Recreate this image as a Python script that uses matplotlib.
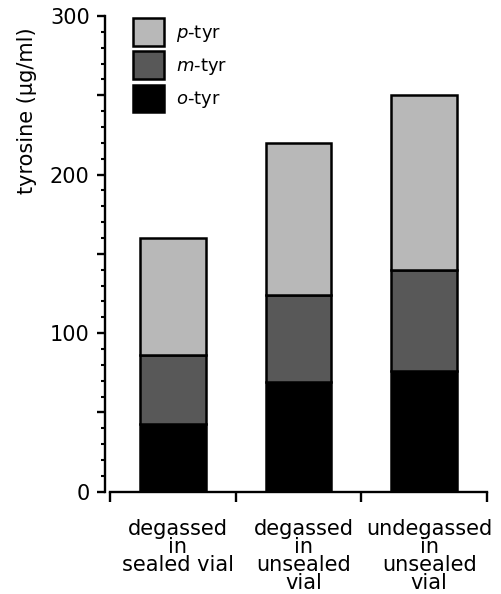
import numpy as np
import matplotlib
matplotlib.use('Agg')
import matplotlib.pyplot as plt
from matplotlib.ticker import MultipleLocator, FuncFormatter

# ---------------
# Data
# ---------------

conditions = ['degassed\nin\nsealed vial',
              'degassed\nin\nunsealed\nvial',
              'undegassed\nin\nunsealed\nvial']
o_tyr = [43, 69, 76]
m_tyr = [43, 55, 64]
p_tyr = [74, 96, 110]

series_labels = [r'$\mathit{o}$-tyr', r'$\mathit{m}$-tyr', r'$\mathit{p}$-tyr']
series_colors = ['black', '#585858', '#b8b8b8']

# ---------------
# Plot
# ---------------

plt.rcParams['font.family'] = 'DejaVu Sans'
plt.rcParams['mathtext.fontset'] = 'dejavusans'

fig = plt.figure(figsize=(5.02, 5.94), dpi=100)
ax = fig.add_axes([110/502, 102.3/594, 377/502, 475.7/594])

x = np.arange(len(conditions)) + 0.5
bottom = np.zeros(len(conditions))
handles = []
for vals, lab, col in zip([o_tyr, m_tyr, p_tyr], series_labels, series_colors):
    b = ax.bar(x, vals, 0.52, bottom=bottom, color=col, edgecolor='black',
               linewidth=1.8, label=lab)
    handles.append(b)
    bottom += np.array(vals)

ax.set_xlim(0, 3)
ax.set_ylim(0, 300)

# spines
for s in ['top', 'right']:
    ax.spines[s].set_visible(False)
ax.spines['left'].set_position(('outward', 3.6))
ax.spines['left'].set_linewidth(1.7)
ax.spines['bottom'].set_linewidth(1.7)

# y ticks
ax.yaxis.set_major_locator(MultipleLocator(50))
ax.yaxis.set_minor_locator(MultipleLocator(10))
ax.yaxis.set_major_formatter(FuncFormatter(lambda v, p: '%d' % v if v % 100 == 0 else ''))
ax.tick_params(axis='y', which='major', length=6, width=1.7, labelsize=15, pad=5)
ax.tick_params(axis='y', which='minor', length=3, width=1.5)

# x ticks: boundaries as major, labels on minor
ax.set_xticks([0, 1, 2, 3])
ax.set_xticklabels([])
ax.set_xticks(x + 0.04, minor=True)
ax.set_xticklabels(conditions, minor=True, linespacing=0.86)
ax.tick_params(axis='x', which='major', direction='out', length=7, width=1.7)
ax.tick_params(axis='x', which='minor', length=0, labelsize=15, pad=20)

ax.set_ylabel('tyrosine (µg/ml)', fontsize=15)
ax.yaxis.set_label_coords(-0.194, 0.80)

leg = ax.legend(handles[::-1], series_labels[::-1], loc='upper left',
                bbox_to_anchor=(0.061, 0.996), frameon=False, fontsize=13,
                borderpad=0, borderaxespad=0, handlelength=1.72,
                handleheight=2.0, labelspacing=0.3, handletextpad=0.66)

plt.savefig('out.png', dpi=100)
